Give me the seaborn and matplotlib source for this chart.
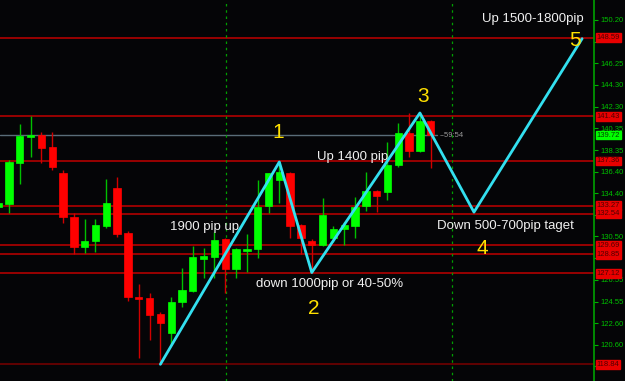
import numpy as np
import pandas as pd
import matplotlib
matplotlib.use("Agg")
import matplotlib.pyplot as plt
import seaborn as sns

# ---------------- data ----------------
opens  = [133.17,133.44,137.18,139.55,139.73,138.63,136.27,132.26,129.53,130.07,
          131.44,134.90,130.80,124.97,124.88,123.43,121.70,124.52,125.52,128.43,
          128.62,130.26,127.52,129.16,129.34,133.26,135.63,136.27,131.53,130.07,
          129.71,130.35,131.17,131.44,133.26,134.63,134.54,136.99,139.91,138.27,
          141.00]
highs  = [133.72,137.45,140.73,141.46,140.00,140.00,136.54,132.62,132.08,132.08,
          135.72,135.90,130.98,126.16,125.34,123.61,124.97,127.61,129.62,129.44,
          130.89,130.30,129.44,130.71,135.63,136.30,137.18,136.40,131.60,130.26,
          133.99,131.44,131.80,134.08,136.36,134.70,139.09,140.82,141.73,141.73,
          141.09]
lows   = [132.99,132.62,135.26,137.72,137.18,136.54,131.71,128.89,128.98,129.07,
          131.26,130.44,124.61,119.42,121.06,118.84,120.60,124.06,125.43,126.70,
          126.70,125.34,126.70,127.25,128.53,132.62,133.53,130.35,128.89,127.16,
          129.65,129.98,129.71,130.35,132.81,132.71,133.81,136.81,137.72,138.20,
          136.72]
closes = [133.53,137.27,139.64,139.68,138.54,136.81,132.26,129.53,130.07,131.53,
          133.53,130.71,124.97,124.84,123.33,122.61,124.52,125.61,128.62,128.71,
          130.16,127.52,129.34,129.34,133.17,136.27,136.36,131.44,130.35,129.71,
          132.44,131.17,131.53,133.17,134.63,134.17,136.99,139.91,138.27,141.00,
          139.72]

level_prices = [148.59, 141.43, 137.36, 133.27, 132.54, 129.69, 128.85, 127.12, 118.84]
current_price = 139.72
tick_values = [150.20, 148.20, 146.25, 144.30, 142.30, 140.35, 138.35, 136.40, 134.40,
               132.45, 130.50, 128.50, 126.55, 124.55, 122.60, 120.60, 118.65]
tick_labels = ["150.20", "", "146.25", "144.30", "142.30", "140.35", "138.35",
               "136.40", "134.40", "", "130.50", "", "126.55", "124.55",
               "122.60", "120.60", ""]

wave_x = [15, 26, 29, 39, 44, 54]
wave_y = [118.84, 137.27, 127.20, 141.73, 132.70, 148.50]
wave_labels = ["", "1", "2", "3", "4", "5"]

separators = [21.05, 42.0]

# ---------------- figure ----------------
W, H = 625, 381
BG = "#050507"
sns.set_style("dark", {"axes.facecolor": BG, "figure.facecolor": BG})
plt.rcParams["font.family"] = ["Liberation Sans", "DejaVu Sans"]

fig = plt.figure(figsize=(W / 100, H / 100), dpi=100)
fig.patch.set_facecolor(BG)
ax = fig.add_axes([0, 0, 594 / W, 1])
ax.set_facecolor(BG)

ax.set_xlim(0.17, 55.1)
ax.set_ylim(117.32, 152.02)

# horizontal level lines
for p in level_prices:
    c = "#7a0000" if p < 120 else "#c00000"
    ax.axhline(p, color=c, lw=1.1, zorder=1)
ax.axhline(current_price, xmax=(40.6 - 0.17) / (55.1 - 0.17), color="#5a6c78", lw=1.0, zorder=1)

# vertical separators
for s in separators:
    ax.axvline(s, color="#00a000", lw=0.9, ls=(0, (2, 3)), zorder=1)

# candles
df = pd.DataFrame({"i": np.arange(len(opens)), "open": opens, "high": highs,
                   "low": lows, "close": closes})
df["up"] = df["close"] >= df["open"]
for _, r in df.iterrows():
    col = "#00ff00" if r["up"] else "#ff0000"
    wcol = "#00c000" if r["up"] else "#d00000"
    ax.vlines(r["i"], r["low"], r["high"], color=wcol, lw=1.0, zorder=2)
    lo, hi = min(r["open"], r["close"]), max(r["open"], r["close"])
    if hi - lo < 0.15:
        lo, hi = (lo + hi) / 2 - 0.08, (lo + hi) / 2 + 0.08
    ax.bar(r["i"], hi - lo, bottom=lo, width=0.68, color=col, edgecolor=col,
           lw=0.5, zorder=3)

# wave zigzag
wave = pd.DataFrame({"x": wave_x, "y": wave_y})
sns.lineplot(data=wave, x="x", y="y", sort=False, color="#33e0f0", lw=2.0,
             ax=ax, zorder=4)

# axis styling
ax.set_xlabel("")
ax.set_ylabel("")
ax.set_xticks([])
ax.yaxis.tick_right()
ax.set_yticks(tick_values)
ax.set_yticklabels(tick_labels)
ax.tick_params(axis="y", colors="#00b000", labelcolor="#00c000", labelsize=5.5,
               length=3, width=0.8, pad=2, right=True, left=False)
for side in ["top", "bottom", "left"]:
    ax.spines[side].set_visible(False)
ax.spines["right"].set_color("#00a000")
ax.spines["right"].set_linewidth(1.2)
ax.grid(False)

# price boxes
for p in level_prices:
    ax.annotate(f"{p:.2f}", xy=(1.0, p), xycoords=("axes fraction", "data"),
                xytext=(2, 0), textcoords="offset points", fontsize=5.5,
                color="#500000", va="center", ha="left", zorder=6,
                bbox=dict(boxstyle="square,pad=0.12", fc="#e80000", ec="#e80000"))
ax.annotate(f"{current_price:.2f}", xy=(1.0, current_price),
            xycoords=("axes fraction", "data"), xytext=(2, 0),
            textcoords="offset points", fontsize=5.5, color="#004000",
            va="center", ha="left", zorder=6,
            bbox=dict(boxstyle="square,pad=0.12", fc="#00ff00", ec="#00ff00"))
ax.annotate("--59:54", xy=(40.8, current_price), xycoords="data",
            fontsize=5.5, color="#9a9a9a", va="center", ha="left")

# annotations (figure-pixel positions)
def ftext(x, y, s, **kw):
    fig.text(x / W, 1 - y / H, s, ha="center", va="center", **kw)

white = dict(color="#f0f0f0", fontsize=9.5)
ftext(204, 227, "1900 pip up", **white)
ftext(330, 284, "down 1000pip or 40-50%", **white)
ftext(353, 157, "Up 1400 pip", **white)
ftext(505, 226, "Down 500-700pip taget", **white)
ftext(533, 19, "Up 1500-1800pip", **white)

yellow = dict(color="#ffe000", fontsize=15)
ftext(278, 133, wave_labels[1], **yellow)
ftext(314, 308, wave_labels[2], **yellow)
ftext(423, 96, wave_labels[3], **yellow)
ftext(482, 248, wave_labels[4], **yellow)
ftext(575, 41, wave_labels[5], **yellow)

fig.savefig("out.png", dpi=100, facecolor=BG)
